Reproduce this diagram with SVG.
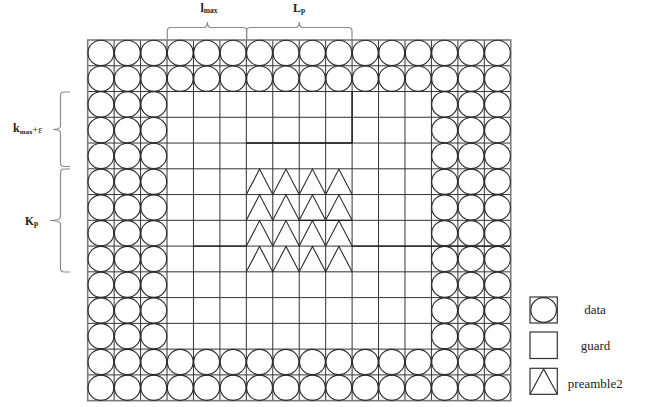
<svg xmlns="http://www.w3.org/2000/svg" xmlns:xlink="http://www.w3.org/1999/xlink" width="645" height="407" viewBox="0 0 645 407">
<style>
.bg{fill:#fff}
.ln{stroke:#333;stroke-width:1;fill:none}
.thick{stroke:#1a1a1a;stroke-width:1.35;fill:none}
.border{stroke:#7a7a7a;stroke-width:1.6;fill:none}
.sym{stroke:#2a2a2a;stroke-width:1.1;fill:none}
.brace{stroke:#8c8c8c;stroke-width:1.2;fill:none}
.lbl{font-family:"Liberation Serif","Times New Roman",serif;font-weight:bold;fill:#222}
.leg{font-family:"Liberation Serif","Times New Roman",serif;font-size:13px;fill:#222;text-anchor:middle}
.lbox{stroke:#333;stroke-width:1.2;fill:#fff}
</style>
<defs>
<ellipse id="c" class="sym" cx="13.22" cy="12.88" rx="12.9" ry="12.6"/>
<path id="t" class="sym" d="M0,25.76 L13.22,0.3 L26.44,25.76"/>
<g id="row16">
<use href="#c" x="87.7"/><use href="#c" x="114.14"/><use href="#c" x="140.58"/><use href="#c" x="167.02"/>
<use href="#c" x="193.46"/><use href="#c" x="219.9"/><use href="#c" x="246.34"/><use href="#c" x="272.78"/>
<use href="#c" x="299.22"/><use href="#c" x="325.66"/><use href="#c" x="352.1"/><use href="#c" x="378.54"/>
<use href="#c" x="404.98"/><use href="#c" x="431.42"/><use href="#c" x="457.86"/><use href="#c" x="484.3"/>
</g>
<g id="row3">
<use href="#c" x="87.7"/><use href="#c" x="114.14"/><use href="#c" x="140.58"/>
<use href="#c" x="431.42"/><use href="#c" x="457.86"/><use href="#c" x="484.3"/>
</g>
<g id="trow">
<use href="#t" x="246.34"/><use href="#t" x="272.78"/><use href="#t" x="299.22"/><use href="#t" x="325.66"/>
</g>
</defs>
<rect class="bg" width="645" height="407"/>

<g id="grid">
<path class="ln" d="M114.14,40V400.64M140.58,40V400.64M167.02,40V400.64M193.46,40V400.64M219.9,40V400.64M246.34,40V400.64M272.78,40V400.64M299.22,40V400.64M325.66,40V400.64M352.1,40V400.64M378.54,40V400.64M404.98,40V400.64M431.42,40V400.64M457.86,40V400.64M484.3,40V400.64"/>
<path class="ln" d="M87.7,65.76H510.74M87.7,91.52H510.74M87.7,117.28H510.74M87.7,143.04H510.74M87.7,168.8H510.74M87.7,194.56H510.74M87.7,220.32H510.74M87.7,246.08H510.74M87.7,271.84H510.74M87.7,297.6H510.74M87.7,323.36H510.74M87.7,349.12H510.74M87.7,374.88H510.74"/>
<path class="thick" d="M352.1,91.52V143.04M246.34,143.04H352.1M193.46,246.08H246.34M352.1,246.08H510.74M299.22,220.32H352.1"/>
<rect class="border" x="87.7" y="40" width="423.04" height="360.64"/>
</g>

<g id="data-cells">
<use href="#row16" y="40"/>
<use href="#row16" y="65.76"/>
<use href="#row3" y="91.52"/>
<use href="#row3" y="117.28"/>
<use href="#row3" y="143.04"/>
<use href="#row3" y="168.8"/>
<use href="#row3" y="194.56"/>
<use href="#row3" y="220.32"/>
<use href="#row3" y="246.08"/>
<use href="#row3" y="271.84"/>
<use href="#row3" y="297.6"/>
<use href="#row3" y="323.36"/>
<use href="#row16" y="349.12"/>
<use href="#row16" y="374.88"/>
</g>

<g id="preamble2-cells">
<use href="#trow" y="168.8"/>
<use href="#trow" y="194.56"/>
<use href="#trow" y="220.32"/>
<use href="#trow" y="246.08"/>
</g>

<g id="brace-lmax">
<path class="brace" d="M167.3,40V31Q167.3,27.5 171,27.5H203.8Q207.4,27.5 207.4,22Q207.4,27.5 211,27.5H243Q246.6,27.5 246.6,31V40"/>
<text class="lbl" x="200.5" y="11.5" font-size="12">l<tspan font-size="7.5" dy="1.5">max</tspan></text>
</g>
<g id="brace-Lp">
<path class="brace" d="M246.6,40V31Q246.6,27.5 250.2,27.5H295.7Q299.3,27.5 299.3,22Q299.3,27.5 302.9,27.5H348.4Q352,27.5 352,31V40"/>
<text class="lbl" x="293" y="11.5" font-size="12">L<tspan font-size="7.5" dy="1.5">p</tspan></text>
</g>
<g id="brace-kmax">
<path class="brace" d="M70,92H64Q60.5,92 60.5,95.5V126Q60.5,129.5 53,129.5Q60.5,129.5 60.5,133V163Q60.5,166.5 64,166.5H70"/>
<text class="lbl" x="13" y="132" font-size="12">k<tspan font-size="7" dy="1.5">max</tspan><tspan font-size="10" font-weight="normal" dy="-1">+ε</tspan></text>
</g>
<g id="brace-Kp">
<path class="brace" d="M70,169H64Q60.5,169 60.5,172.5V217Q60.5,220.5 50,220.5Q60.5,220.5 60.5,224V268.5Q60.5,272 64,272H70"/>
<text class="lbl" x="25" y="224.5" font-size="11.5">K<tspan font-size="7.5" dy="1.5">p</tspan></text>
</g>

<g id="legend-data">
<rect class="lbox" x="530" y="297" width="27.3" height="26"/>
<ellipse class="sym" cx="543.65" cy="310" rx="12.8" ry="12.4"/>
<text class="leg" x="595" y="313.5">data</text>
</g>
<g id="legend-guard">
<rect class="lbox" x="530" y="332" width="27.3" height="26.5"/>
<text class="leg" x="595.5" y="350">guard</text>
</g>
<g id="legend-preamble2">
<rect class="lbox" x="530" y="368.3" width="27.3" height="26"/>
<path class="sym" d="M530,394.3L543.65,369L557.3,394.3"/>
<text class="leg" x="595.3" y="388">preamble2</text>
</g>
</svg>
